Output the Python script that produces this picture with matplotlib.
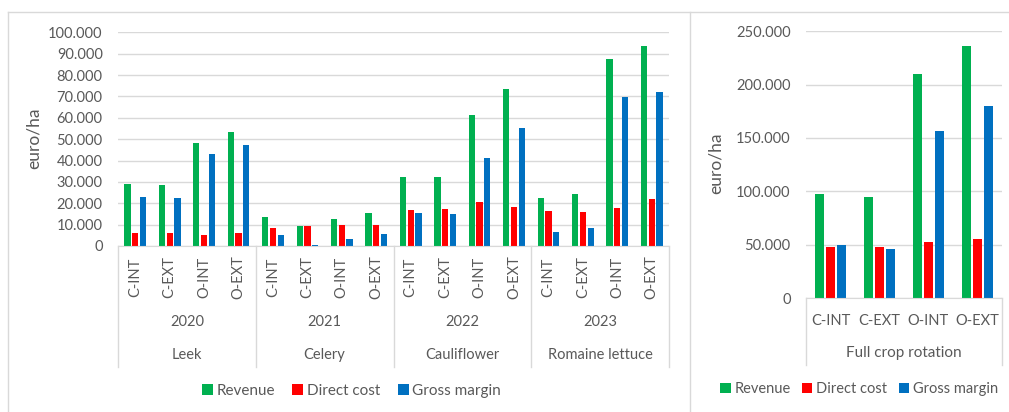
import matplotlib.pyplot as plt
import matplotlib.transforms as mtransforms
from matplotlib.patches import Patch
from matplotlib.lines import Line2D
from matplotlib.ticker import FuncFormatter, MultipleLocator

# data (euro/ha)
systems = ["C-INT", "C-EXT", "O-INT", "O-EXT"]
years = ["2020", "2021", "2022", "2023"]
crops = ["Leek", "Celery", "Cauliflower", "Romaine lettuce"]

revenue = [29000, 28500, 48000, 53500,
           13600, 9500, 12600, 15400,
           32300, 32400, 61300, 73300,
           22600, 24200, 87700, 93400]
direct_cost = [6200, 6100, 5100, 6100,
               8600, 9400, 9700, 9700,
               16700, 17500, 20600, 18300,
               16200, 15800, 17900, 21800]
gross_margin = [22900, 22500, 42900, 47400,
                5100, 300, 3100, 5800,
                15400, 15000, 41000, 55100,
                6400, 8600, 69700, 71900]

rot_label = "Full crop rotation"
rot_revenue = [97400, 94600, 209700, 236000]
rot_direct_cost = [47400, 48100, 52700, 55200]
rot_gross_margin = [49300, 45900, 156400, 179800]

series_names = ["Revenue", "Direct cost", "Gross margin"]
colors = ["#00B050", "#FF0000", "#0070C0"]
grey = "#595959"
light = "#D9D9D9"
FONT = "Lato"
LAB = 10.5

W, H = 1009, 412
fig = plt.figure(figsize=(W / 100, H / 100), dpi=100)
plt.rcParams["font.family"] = FONT


def px_axes(x0, x1, ytop, ybot):
    return fig.add_axes([x0 / W, 1 - ybot / H, (x1 - x0) / W, (ybot - ytop) / H])


def thousands(v, pos):
    return f"{int(v):,}".replace(",", ".")


def below(ax, dy):
    # x in data, y in axes, shifted dy pixels downwards
    return mtransforms.offset_copy(ax.get_xaxis_transform(), fig=fig, x=0, y=-dy, units="dots")


def style_axes(ax, ymax, step):
    ax.set_ylim(0, ymax)
    ax.yaxis.set_major_locator(MultipleLocator(step))
    ax.yaxis.set_major_formatter(FuncFormatter(thousands))
    ax.grid(axis="y", color=light, lw=1)
    ax.set_axisbelow(True)
    for s in ["top", "right", "left"]:
        ax.spines[s].set_visible(False)
    ax.spines["bottom"].set_color(light)
    ax.tick_params(axis="y", length=0, pad=11, labelsize=10.5, labelcolor=grey)
    ax.tick_params(axis="x", length=0)
    ax.set_xticks([])


bw = 0.18
off = 0.225

# ---- left chart: per crop / year
ax1 = px_axes(118, 669, 32.3, 246)
xs = list(range(len(revenue)))
for i, (vals, c) in enumerate(zip([revenue, direct_cost, gross_margin], colors)):
    ax1.bar([x + (i - 1) * off for x in xs], vals, width=bw, color=c, lw=0)
ax1.set_xlim(-0.5, len(xs) - 0.5)
style_axes(ax1, 100000, 10000)

for x in xs:
    ax1.text(x, 0, systems[x % 4], transform=below(ax1, 31), rotation=90,
             ha="center", va="center", fontsize=LAB, color=grey)
for g in range(4):
    cx = g * 4 + 1.5
    ax1.text(cx, 0, years[g], transform=below(ax1, 76), ha="center", va="center",
             fontsize=LAB, color=grey)
    ax1.text(cx, 0, crops[g], transform=below(ax1, 109), ha="center", va="center",
             fontsize=LAB, color=grey)
for xb in [-0.5, 3.5, 7.5, 11.5, 15.5]:
    ax1.plot([xb, xb], [0, -121 / 213.7], transform=ax1.get_xaxis_transform(),
             color=light, lw=1, clip_on=False)

# ---- right chart: full rotation
ax2 = px_axes(806, 1002, 31.3, 298)
xr = list(range(len(systems)))
for i, (vals, c) in enumerate(zip([rot_revenue, rot_direct_cost, rot_gross_margin], colors)):
    ax2.bar([x + (i - 1) * off for x in xr], vals, width=0.17, color=c, lw=0)
ax2.set_xlim(-0.5, len(xr) - 0.5)
style_axes(ax2, 250000, 50000)
for x in xr:
    ax2.text(x, 0, systems[x], transform=below(ax2, 23), ha="center", va="center",
             fontsize=LAB, color=grey)
ax2.text(1.5, 0, rot_label, transform=below(ax2, 55), ha="center", va="center",
         fontsize=LAB + 0.5, color=grey)
for xb in [-0.5, 3.5]:
    ax2.plot([xb, xb], [0, -67 / 266.7], transform=ax2.get_xaxis_transform(),
             color=light, lw=1, clip_on=False)

# y labels
fig.text(33.5 / W, 1 - 138 / H, "euro/ha", rotation=90, ha="center", va="center",
         fontsize=12.5, color=grey)
fig.text(715.5 / W, 1 - 163 / H, "euro/ha", rotation=90, ha="center", va="center",
         fontsize=12.5, color=grey)

# legends
handles = [Patch(facecolor=c, edgecolor="none") for c in colors]
for cx, cy, fs, cs in [(351.5, 390.7, 11, 1.15), (859, 389, 10.5, 0.8)]:
    fig.legend(handles, series_names, loc="center", bbox_to_anchor=(cx / W, 1 - cy / H),
               ncol=3, frameon=False, fontsize=fs, labelcolor=grey,
               handlelength=0.7, handleheight=0.7, handletextpad=0.25,
               columnspacing=cs, borderaxespad=0, borderpad=0)

# chart frames
for xs_, ys_ in [([8, 1009], [11.5, 11.5]), ([8, 8], [11.5, 412]), ([690, 690], [11.5, 412])]:
    fig.add_artist(Line2D([x / W for x in xs_], [1 - y / H for y in ys_], color=light, lw=1))

fig.savefig("out.png", dpi=100, facecolor="white")
